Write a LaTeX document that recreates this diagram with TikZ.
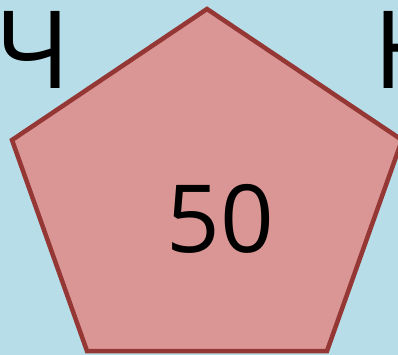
\documentclass[tikz,border=0pt]{standalone}
\usepackage{fontspec}
\setmainfont{Open Sans}
\definecolor{bgblue}{RGB}{183,222,232}
\definecolor{penfill}{RGB}{218,150,148}
\definecolor{penline}{RGB}{149,55,53}
\tikzset{
  bigletter/.style={font=\fontsize{108}{108}\selectfont, inner sep=0pt, text=black},
  valtext/.style={font=\fontsize{94}{94}\selectfont, inner sep=0pt, text=black},
  penta/.style={fill=penfill, draw=penline, line width=4.5pt, line join=miter}
}
\begin{document}
\begin{tikzpicture}[x=1pt,y=-1pt]
\path[fill=bgblue] (0,0) rectangle (398,355);
\useasboundingbox (0,0) rectangle (398,355);
\coordinate (t) at (207,9);
\coordinate (r) at (402,140);
\coordinate (br) at (327,351);
\coordinate (bl) at (87,351);
\coordinate (l) at (12,140);
\draw[penta] (t) -- (r) -- (br) -- (bl) -- (l) -- cycle;
\node[bigletter, anchor=base] (che) at (33,89) {Ч};
\node[bigletter, anchor=base west] (en) at (373,89) {Н};
\node[valtext] (val) at (220,219) {50};
\end{tikzpicture}
\end{document}
